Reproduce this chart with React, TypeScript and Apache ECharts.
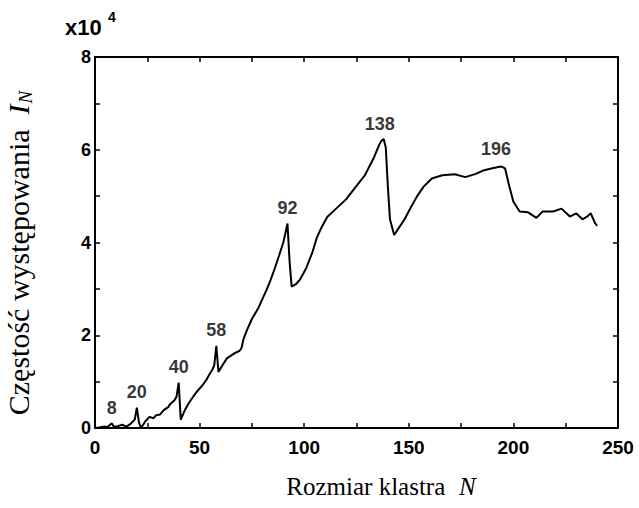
import React, { useEffect, useRef } from "react";
import * as echarts from "echarts";

// Cluster size N and the observed abundance I_N (in units of 10^4)
const CLUSTER_SIZE = [
  0, 2, 4, 6, 8, 9, 11, 13, 15, 17, 19, 20, 21, 22, 24, 26, 28, 29, 31, 33,
  35, 36, 38, 39, 40, 41, 43, 45, 47, 49, 51, 53, 55, 56, 57, 58, 59, 61, 63,
  65, 67, 69, 70, 71, 73, 75, 78, 80, 82, 84, 86, 88, 90, 91, 92, 93, 94, 96,
  98, 101, 104, 106, 108, 111, 115, 120, 125, 129, 133, 136, 137, 138, 139,
  140, 141, 143, 145, 148, 151, 154, 157, 161, 166, 172, 177, 182, 186, 190,
  194, 196, 198, 200, 203, 207, 211, 214, 219, 223, 227, 230, 233, 235, 237,
  239, 240,
];
const INTENSITY = [
  0.0, 0.01, 0.03, 0.02, 0.1, 0.03, 0.04, 0.07, 0.03, 0.09, 0.18, 0.44, 0.12,
  0.0, 0.14, 0.24, 0.21, 0.27, 0.29, 0.39, 0.45, 0.52, 0.6, 0.68, 0.98, 0.18,
  0.39, 0.55, 0.68, 0.8, 0.9, 1.02, 1.18, 1.25, 1.35, 1.77, 1.21, 1.36, 1.5,
  1.56, 1.62, 1.66, 1.72, 1.92, 2.15, 2.35, 2.58, 2.78, 2.98, 3.2, 3.45, 3.72,
  4.0, 4.2, 4.41, 3.6, 3.05, 3.1, 3.2, 3.45, 3.8, 4.1, 4.3, 4.55, 4.72, 4.93,
  5.22, 5.45, 5.8, 6.12, 6.2, 6.23, 6.05, 5.2, 4.5, 4.16, 4.3, 4.5, 4.76, 5.0,
  5.2, 5.38, 5.45, 5.47, 5.41, 5.48, 5.56, 5.6, 5.64, 5.6, 5.22, 4.88, 4.67,
  4.65, 4.53, 4.67, 4.67, 4.73, 4.56, 4.63, 4.5, 4.55, 4.63, 4.42, 4.36,
];
// Magic numbers marked above their peaks
const MAGIC_NUMBERS = [8, 20, 40, 58, 92, 138, 196];

const X_TITLE = "Rozmiar klastra";
const Y_TITLE = "Częstość występowania";

const SANS = "Liberation Sans";
const SERIF = "Liberation Serif";

// Width of a string in the given CSS font, used to chain title pieces
function textWidth(text: string, font: string): number {
  const ctx = document.createElement("canvas").getContext("2d")!;
  ctx.font = font;
  return ctx.measureText(text).width;
}

export default function App() {
  const ref = useRef<HTMLDivElement>(null);

  useEffect(() => {
    const chart = echarts.init(ref.current!, null, { renderer: "svg" });
    const points = CLUSTER_SIZE.map((n, i) => [n, INTENSITY[i]]);
    const peaks = MAGIC_NUMBERS.map((n) => {
      const i = CLUSTER_SIZE.indexOf(n);
      const item: any = { value: [n, INTENSITY[i]] };
      if (n === 138) item.label = { offset: [-4, 0] };
      if (n === 196) item.label = { offset: [-9, -4] };
      return item;
    });

    const axisLine = { show: true, onZero: false, lineStyle: { color: "#000", width: 2 } };
    const tick = { show: true, inside: true, length: 5, lineStyle: { color: "#000", width: 1.5 } };
    const boldLabel = { fontFamily: SANS, fontWeight: "bold" as const, color: "#000" };

    // x-axis title: upright words followed by an italic N
    const xSize = 25;
    const xWordW = textWidth(X_TITLE, `${xSize}px "${SERIF}"`);
    const xGap = xSize * 0.55;
    const xNW = textWidth("N", `italic ${xSize}px "${SERIF}"`);
    const xTotal = xWordW + xGap + xNW;
    const xLeft = 381 - xTotal / 2;

    // y-axis title, laid out horizontally inside a rotated group
    const ySize = 30;
    const yWordW = textWidth(Y_TITLE, `${ySize}px "${SERIF}"`);
    const yGap = ySize * 0.5;
    const yIW = textWidth("I", `italic ${ySize}px "${SERIF}"`);
    const ySubSize = 19;
    const yNW = textWidth("N", `italic ${ySubSize}px "${SERIF}"`);
    const yTotal = yWordW + yGap + yIW + 1 + yNW;
    const y0 = -yTotal / 2;

    chart.setOption({
      animation: false,
      backgroundColor: "#fff",
      grid: { left: 95, right: 21, top: 57, bottom: 80, show: false },
      xAxis: [
        {
          type: "value", position: "bottom", min: 0, max: 250, interval: 25,
          axisLine, axisTick: tick, splitLine: { show: false },
          axisLabel: {
            ...boldLabel, fontSize: 19, margin: 10,
            formatter: (v: number) => (v % 50 === 0 ? String(v) : ""),
          },
        },
        {
          type: "value", position: "top", min: 0, max: 250, interval: 25,
          axisLine, axisTick: tick, splitLine: { show: false },
          axisLabel: { show: false },
        },
      ],
      yAxis: [
        {
          type: "value", position: "left", min: 0, max: 8, interval: 1,
          axisLine, axisTick: tick, splitLine: { show: false },
          axisLabel: {
            ...boldLabel, fontSize: 18, margin: 4,
            formatter: (v: number) => (v % 2 === 0 ? String(v) : ""),
          },
        },
        {
          type: "value", position: "right", min: 0, max: 8, interval: 1,
          axisLine, axisTick: tick, splitLine: { show: false },
          axisLabel: { show: false },
        },
      ],
      series: [
        {
          type: "line",
          data: points,
          showSymbol: false,
          lineStyle: { color: "#000", width: 2 },
          z: 3,
        },
        {
          type: "scatter",
          data: peaks,
          symbolSize: 1,
          itemStyle: { color: "rgba(0,0,0,0)" },
          label: {
            show: true, position: "top", distance: 6,
            ...boldLabel, fontSize: 18,
            formatter: (p: any) => String(p.value[0]),
          },
          z: 4,
        },
      ],
      graphic: [
        {
          type: "text", x: 65, y: 27,
          style: { text: "x10", fontFamily: SANS, fontWeight: "bold", fill: "#000", fontSize: 22, verticalAlign: "middle" },
        },
        {
          type: "text", x: 108, y: 17,
          style: { text: "4", fontFamily: SANS, fontWeight: "bold", fill: "#000", fontSize: 14, verticalAlign: "middle" },
        },
        {
          type: "text", x: xLeft, y: 486,
          style: { text: X_TITLE, fontFamily: SERIF, fontSize: xSize, fill: "#000", align: "left", verticalAlign: "middle" },
        },
        {
          type: "text", x: xLeft + xWordW + xGap, y: 486,
          style: { text: "N", fontFamily: SERIF, fontStyle: "italic", fontSize: xSize, fill: "#000", align: "left", verticalAlign: "middle" },
        },
        {
          type: "group", x: 18, y: 253, rotation: Math.PI / 2,
          children: [
            {
              type: "text", x: y0, y: 0,
              style: { text: Y_TITLE, fontFamily: SERIF, fontSize: ySize, fill: "#000", align: "left", verticalAlign: "middle" },
            },
            {
              type: "text", x: y0 + yWordW + yGap, y: 0,
              style: { text: "I", fontFamily: SERIF, fontStyle: "italic", fontSize: ySize, fill: "#000", align: "left", verticalAlign: "middle" },
            },
            {
              type: "text", x: y0 + yWordW + yGap + yIW + 1, y: 7,
              style: { text: "N", fontFamily: SERIF, fontStyle: "italic", fontSize: ySubSize, fill: "#000", align: "left", verticalAlign: "middle" },
            },
          ],
        },
      ],
    });

    return () => chart.dispose();
  }, []);

  return (
    <div
      ref={ref}
      style={{ position: "absolute", left: 0, top: 0, width: 639, height: 508, background: "#fff" }}
    />
  );
}
